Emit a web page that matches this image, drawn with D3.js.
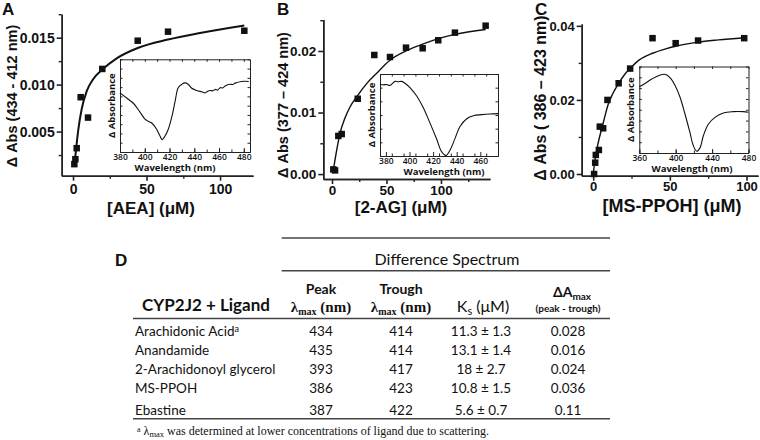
<!DOCTYPE html>
<html>
<head>
<meta charset="utf-8">
<script src="https://cdn.jsdelivr.net/npm/d3@7"></script>
<style>
  body { margin: 0; background: #fff; }
  svg { display: block; }
</style>
</head>
<body>
<svg id="fig" width="760" height="440"></svg>
<script>

// ---- Panel A : AEA titration
var aeaConc = [0.9, 1.6, 2.5, 5.2, 10.2, 19.9, 44, 64.6, 116.5];
var aeaAbs = [0.00153, 0.00206, 0.00323, 0.00866, 0.00649, 0.01167, 0.01468, 0.01564, 0.01574];
var aeaFitConc = [1.0, 2.0, 3.6, 5.9, 9.3, 13.8, 19.9, 29.7, 44, 64.6, 86.4, 116.5];
var aeaFitAbs = [0.0015, 0.0030, 0.0052, 0.0074, 0.0093, 0.0106, 0.0116, 0.0128, 0.0139, 0.0148, 0.0155, 0.0163];
var aeaWavelength = [380, 385.4, 390.8, 396, 400, 403, 405.6, 409.6, 412.3, 414, 416, 419, 421.8, 424.5, 427, 430, 432.5, 435, 438, 442, 446, 448.7, 450.5, 452.8, 455, 456.8, 459, 460.9, 463, 464.9, 469, 471, 473, 478, 484];
var aeaSpectrum = [0.638, 0.582, 0.526, 0.433, 0.358, 0.33, 0.313, 0.246, 0.172, 0.134, 0.164, 0.246, 0.377, 0.545, 0.694, 0.731, 0.746, 0.731, 0.687, 0.664, 0.649, 0.638, 0.652, 0.664, 0.66, 0.675, 0.67, 0.694, 0.69, 0.713, 0.731, 0.728, 0.743, 0.761, 0.761];

// ---- Panel B : 2-AG titration
var agConc = [1.2, 2.8, 5.8, 8.9, 23.6, 38.8, 53.2, 67.9, 83.2, 97.5, 112.8, 141];
var agAbs = [0.00076, 0.0006, 0.0062, 0.0065, 0.01224, 0.01935, 0.01902, 0.02054, 0.02044, 0.02174, 0.02298, 0.02411];
var agFitConc = [1.2, 4.3, 7.3, 11.9, 16.5, 23.6, 31.8, 41, 53.2, 67.9, 83.2, 97.5, 112.8, 141];
var agFitAbs = [0.00065, 0.0039, 0.0066, 0.0091, 0.0109, 0.0128, 0.0147, 0.0164, 0.0185, 0.0200, 0.0211, 0.0220, 0.0227, 0.0235];
var agWavelength = [375, 377.8, 380.5, 383.5, 387.7, 390.5, 393.4, 396.2, 400.4, 406.1, 411.7, 417.4, 423, 427.3, 430.9, 434.3, 438.6, 442.8, 448.5, 454.1, 461.2, 468.2, 475];
var agSpectrum = [0.876, 0.868, 0.872, 0.86, 0.91, 0.905, 0.91, 0.888, 0.835, 0.731, 0.587, 0.401, 0.207, 0.05, 0.008, 0.07, 0.215, 0.36, 0.455, 0.492, 0.504, 0.512, 0.517];

// ---- Panel C : MS-PPOH titration
var msConc = [0.6, 1.3, 1.7, 3.7, 4.3, 6.5, 9.3, 16.6, 24.1, 38.7, 53.8, 68.4, 98.5];
var msAbs = [0.0, 0.00305, 0.00514, 0.00649, 0.01279, 0.01234, 0.0200, 0.0245, 0.02846, 0.03667, 0.03532, 0.03603, 0.03667];
var msFitConc = [0, 1.5, 3.2, 6.5, 9.7, 12.9, 16.6, 20.4, 24.1, 30.1, 38.7, 47.3, 53.8, 68.4, 81.7, 98.5];
var msFitAbs = [0, 0.0047, 0.0083, 0.0137, 0.0187, 0.0218, 0.0245, 0.0268, 0.0285, 0.0308, 0.0326, 0.0338, 0.0345, 0.0356, 0.0362, 0.0368];
var msWavelength = [360, 366.3, 373.6, 380.9, 388.2, 393.7, 399.2, 404.7, 410.2, 415.7, 419.3, 423.1, 426.7, 430.3, 435.8, 443.2, 452.3, 463.3, 474.3, 479.8];
var msSpectrum = [0.765, 0.804, 0.855, 0.894, 0.91, 0.871, 0.784, 0.647, 0.451, 0.235, 0.086, 0.02, 0.059, 0.196, 0.333, 0.412, 0.463, 0.478, 0.478, 0.471];

// ---- tick labels
var concTicks = [0, 50, 100];
var aYTicks = [0.005, 0.010, 0.015];
var bYTicks = [0.00, 0.01, 0.02];
var cYTicks = [0.00, 0.02, 0.04];
var aWlTicks = [380, 400, 420, 440, 460, 480];
var bWlTicks = [380, 400, 420, 440, 460];
var cWlTicks = [360, 400, 440, 480];

// ---- Panel D : table
var ligands = ["Arachidonic Acid", "Anandamide", "2-Arachidonoyl glycerol", "MS-PPOH", "Ebastine"];
var peakNm = [434, 435, 393, 386, 387];
var troughNm = [414, 414, 417, 423, 422];
var ksMean = [11.3, 13.1, 18, 10.8, 5.6];
var ksErr = [1.3, 1.4, 2.7, 1.5, 0.7];
var deltaAmax = ["0.028", "0.016", "0.024", "0.036", "0.11"];

var svg = d3.select("#fig");
svg.append("rect").attr("width", 760).attr("height", 440).attr("fill", "#fff");

var ARIAL = "'Liberation Sans', Arial, sans-serif";
var INSET = "600 8.5px 'Open Sans', sans-serif";

/**
 * Strips d3 defaults and applies the figure's look.
 */
var styleAxis = function(sel, font, width) {
  sel.attr("font-family", null).attr("font-size", null);
  sel.selectAll("text").attr("fill", "#111").style("font", font);
  sel.select(".domain").attr("stroke", "#222").attr("stroke-width", width);
  sel.selectAll(".tick line").attr("stroke", "#222").attr("stroke-width", width);
};

var minorTicks = function(lo, hi, step) {
  return d3.range(lo, hi + step / 2, step);
};

/**
 * Draws the small difference spectrum inside a panel.
 */
var drawInset = function(g, p) {
  var b = p.box;
  var ix = d3.scaleLinear().domain(p.wlDomain).range([b[0], b[2]]);
  var iy = d3.scaleLinear().domain([0, 1]).range([b[3], b[1]]);

  g.append("rect").attr("x", b[0]).attr("y", b[1])
    .attr("width", b[2] - b[0]).attr("height", b[3] - b[1]).attr("fill", "#fff");

  var xMinor = minorTicks(p.wlDomain[0], p.wlDomain[1], p.wlMinorStep);
  var yMinor = minorTicks(0, 1, p.yMinorStep);

  // inward ticks on all four sides
  g.append("g").attr("transform", "translate(0," + b[3] + ")")
    .call(d3.axisBottom(ix).tickValues(xMinor).tickSize(-2.5).tickSizeOuter(0).tickFormat(""))
    .call(styleAxis, INSET, 1);
  g.append("g").attr("transform", "translate(0," + b[1] + ")")
    .call(d3.axisTop(ix).tickValues(xMinor).tickSize(-2.5).tickSizeOuter(0).tickFormat(""))
    .call(styleAxis, INSET, 1);
  g.append("g").attr("transform", "translate(" + b[0] + ",0)")
    .call(d3.axisLeft(iy).tickValues(yMinor).tickSize(-2.5).tickSizeOuter(0).tickFormat(""))
    .call(styleAxis, INSET, 1);
  g.append("g").attr("transform", "translate(" + b[2] + ",0)")
    .call(d3.axisRight(iy).tickValues(yMinor).tickSize(-2.5).tickSizeOuter(0).tickFormat(""))
    .call(styleAxis, INSET, 1);
  g.append("g").attr("transform", "translate(0," + b[3] + ")")
    .call(d3.axisBottom(ix).tickValues(p.wlTicks).tickSize(-4).tickSizeOuter(0).tickPadding(2).tickFormat(d3.format("d")))
    .call(styleAxis, INSET, 1);

  var line = d3.line()
    .x(function(d) { return ix(d[0]); })
    .y(function(d) { return iy(d[1]); })
    .curve(d3.curveCatmullRom);
  g.append("path")
    .datum(d3.zip(p.wl, p.spec))
    .attr("d", line)
    .attr("fill", "none").attr("stroke", "#111").attr("stroke-width", 1.1);

  g.append("text")
    .attr("transform", "translate(" + (b[0] - 5) + "," + ((b[1] + b[3]) / 2) + ") rotate(-90)")
    .attr("text-anchor", "middle")
    .style("font", "bold 9.5px 'Open Sans', sans-serif").attr("fill", "#111")
    .text("Δ Absorbance");
  g.append("text")
    .attr("x", p.wlTitleX).attr("y", b[3] + 19)
    .attr("text-anchor", "middle")
    .style("font", "bold 9.5px 'Open Sans', sans-serif").attr("fill", "#111")
    .text("Wavelength (nm)");
};

/**
 * Draws one titration panel with its fit and inset.
 */
var drawPanel = function(p) {
  var g = svg.append("g");
  var x = d3.scaleLinear().domain(p.xDomain).range(p.xRange);
  var y = d3.scaleLinear().domain(p.yDomain).range(p.yRange);
  var tickFont = "bold " + p.tickSize + "px " + ARIAL;

  g.append("g").attr("transform", "translate(0," + p.yRange[0] + ")")
    .call(d3.axisBottom(x).tickValues([25, 75, 125].filter(function(v) { return v < p.xDomain[1]; }))
      .tickSize(3).tickSizeOuter(0).tickFormat(""))
    .call(styleAxis, tickFont, 1.4);
  g.append("g").attr("transform", "translate(" + p.xRange[0] + ",0)")
    .call(d3.axisLeft(y).tickValues(p.yMinor).tickSize(3).tickSizeOuter(0).tickFormat(""))
    .call(styleAxis, tickFont, 1.4);

  g.append("g").attr("transform", "translate(0," + p.yRange[0] + ")")
    .call(d3.axisBottom(x).tickValues(concTicks).tickSize(5).tickSizeOuter(0).tickPadding(p.xPad))
    .call(styleAxis, tickFont, 1.6);
  g.append("g").attr("transform", "translate(" + p.xRange[0] + ",0)")
    .call(d3.axisLeft(y).tickValues(p.yTicks).tickSize(5).tickSizeOuter(0).tickPadding(2)
      .tickFormat(d3.format(p.yFormat)))
    .call(styleAxis, tickFont, 1.6);

  var fit = d3.line()
    .x(function(d) { return x(d[0]); })
    .y(function(d) { return y(d[1]); })
    .curve(d3.curveMonotoneX);
  g.append("path")
    .datum(d3.zip(p.fitConc, p.fitAbs))
    .attr("d", fit)
    .attr("fill", "none").attr("stroke", "#111").attr("stroke-width", p.fitWidth);

  var s = 6.5;
  g.selectAll(".pt")
    .data(d3.zip(p.conc, p.abs))
    .enter().append("rect")
      .attr("class", "pt")
      .attr("x", function(d) { return x(d[0]) - s / 2; })
      .attr("y", function(d) { return y(d[1]) - s / 2; })
      .attr("width", s).attr("height", s)
      .attr("fill", "#111");

  drawInset(g, p);

  g.append("text")
    .attr("transform", "translate(" + p.yTitleX + "," + p.yTitleY + ") rotate(-90)")
    .attr("text-anchor", "middle")
    .style("font", "bold " + p.yTitleSize + "px " + ARIAL).attr("fill", "#111")
    .text(p.yTitle);
  g.append("text")
    .attr("x", p.xTitleX).attr("y", p.xTitleY)
    .attr("text-anchor", "middle")
    .style("font", "bold " + p.xTitleSize + "px " + ARIAL).attr("fill", "#111")
    .text(p.xTitle);
  g.append("text")
    .attr("x", p.letterX).attr("y", 15)
    .style("font", "bold 17px " + ARIAL).attr("fill", "#111")
    .text(p.letter);
};

drawPanel({
  letter: "A", letterX: 2,
  conc: aeaConc, abs: aeaAbs, fitConc: aeaFitConc, fitAbs: aeaFitAbs, fitWidth: 2,
  xDomain: [-7.7, 122.4], xRange: [61.7, 253], xPad: 3, tickSize: 14,
  yDomain: [0.0003, 0.0175], yRange: [175.7, 14.2],
  yTicks: aYTicks, yMinor: [0.0025, 0.0075, 0.0125, 0.0175], yFormat: ".3f",
  yTitle: "Δ Abs (434 - 412 nm)", yTitleX: 17, yTitleY: 96, yTitleSize: 14.5,
  xTitle: "[AEA] (μM)", xTitleX: 151, xTitleY: 214, xTitleSize: 17,
  wl: aeaWavelength, spec: aeaSpectrum, wlDomain: [380, 485], wlTicks: aWlTicks,
  wlMinorStep: 10, yMinorStep: 0.1, box: [120, 59.3, 250, 152], wlTitleX: 175
});

drawPanel({
  letter: "B", letterX: 277,
  conc: agConc, abs: agAbs, fitConc: agFitConc, fitAbs: agFitAbs, fitWidth: 1.4,
  xDomain: [-8, 145], xRange: [323.3, 490], xPad: 1, tickSize: 13.5,
  yDomain: [-0.0008, 0.0251], yRange: [179, 19.6],
  yTicks: bYTicks, yMinor: [0.005, 0.015, 0.025], yFormat: ".2f",
  yTitle: "Δ Abs (377 – 424 nm)", yTitleX: 288, yTitleY: 105, yTitleSize: 14.5,
  xTitle: "[2-AG] (μM)", xTitleX: 401, xTitleY: 213, xTitleSize: 17,
  wl: agWavelength, spec: agSpectrum, wlDomain: [375, 475], wlTicks: bWlTicks,
  wlMinorStep: 10, yMinorStep: 1 / 6, box: [380, 74, 498, 156], wlTitleX: 444
});

drawPanel({
  letter: "C", letterX: 535,
  conc: msConc, abs: msAbs, fitConc: msFitConc, fitAbs: msFitAbs, fitWidth: 1.4,
  xDomain: [-7.5, 107.5], xRange: [581.7, 758], xPad: 1, tickSize: 13,
  yDomain: [-0.00046, 0.0405], yRange: [175.7, 24],
  yTicks: cYTicks, yMinor: [0.01, 0.03], yFormat: ".2f",
  yTitle: "Δ Abs ( 386 – 423 nm)", yTitleX: 546, yTitleY: 98, yTitleSize: 16,
  xTitle: "[MS-PPOH]  (μM)", xTitleX: 672, xTitleY: 212, xTitleSize: 18,
  wl: msWavelength, spec: msSpectrum, wlDomain: [360, 480], wlTicks: cWlTicks,
  wlMinorStep: 20, yMinorStep: 1 / 8, box: [639.3, 66.5, 748.5, 153], wlTitleX: 692
});

// ---- Panel D : table
var SANS = "'Lato', 'Open Sans', sans-serif";
var SERIF = "'Liberation Serif', 'Times New Roman', serif";
var t = svg.append("g").attr("fill", "#111");
var colX = { name: 135, peak: 321, trough: 401, ks: 481, dA: 568 };
var rowY = [336, 354.8, 373.8, 393.3, 415];

var rule = function(x1, x2, yy) {
  t.append("line").attr("x1", x1).attr("x2", x2).attr("y1", yy).attr("y2", yy)
    .attr("stroke", "#444").attr("stroke-width", 1.5);
};
rule(281.7, 610, 238);
rule(281.7, 610, 270.7);
rule(133, 610, 318.5);
rule(133, 610, 418.8);

t.append("text").attr("x", 115).attr("y", 266)
  .style("font", "bold 17px " + ARIAL).text("D");
t.append("text").attr("x", 447).attr("y", 265).attr("text-anchor", "middle")
  .style("font", "16px " + SANS).text("Difference Spectrum");

t.append("text").attr("x", colX.peak).attr("y", 294).attr("text-anchor", "middle")
  .style("font", "bold 14px " + SANS).text("Peak");
t.append("text").attr("x", colX.trough).attr("y", 294).attr("text-anchor", "middle")
  .style("font", "bold 14px " + SANS).text("Trough");
t.append("text").attr("x", 206).attr("y", 311).attr("text-anchor", "middle")
  .style("font", "bold 17px " + SANS).text("CYP2J2 + Ligand");

var lambdaHead = function(cx) {
  var tx = t.append("text").attr("x", cx).attr("y", 312).attr("text-anchor", "middle")
    .style("font", "bold 15px " + SERIF);
  tx.append("tspan").text("λ");
  tx.append("tspan").attr("dy", 3).style("font-size", "10px").text("max");
  tx.append("tspan").attr("dy", -3).text(" (nm)");
};
lambdaHead(colX.peak);
lambdaHead(colX.trough);

var ks = t.append("text").attr("x", colX.ks + 2).attr("y", 312).attr("text-anchor", "middle")
  .style("font", "16px " + SANS);
ks.append("tspan").text("K");
ks.append("tspan").attr("dy", 3).style("font-size", "11px").text("s");
ks.append("tspan").attr("dy", -3).text(" (μM)");

var da = t.append("text").attr("x", colX.dA + 4).attr("y", 297).attr("text-anchor", "middle")
  .style("font", "bold 14px " + SANS);
da.append("tspan").text("ΔA");
da.append("tspan").attr("dy", 3).style("font-size", "10px").text("max");
t.append("text").attr("x", colX.dA).attr("y", 312).attr("text-anchor", "middle")
  .style("font", "bold 10px " + SANS).text("(peak - trough)");

var BODY = "13.5px " + SANS;
ligands.forEach(function(name, i) {
  var nm = t.append("text").attr("x", colX.name).attr("y", rowY[i]).style("font", BODY);
  nm.append("tspan").text(name);
  if (i === 0) {
    nm.append("tspan").attr("dy", -4).style("font-size", "9px").text("a");
  }
  t.append("text").attr("x", colX.peak).attr("y", rowY[i]).attr("text-anchor", "middle")
    .style("font", BODY).text(peakNm[i]);
  t.append("text").attr("x", colX.trough).attr("y", rowY[i]).attr("text-anchor", "middle")
    .style("font", BODY).text(troughNm[i]);
  t.append("text").attr("x", colX.ks).attr("y", rowY[i]).attr("text-anchor", "middle")
    .style("font", BODY).text(ksMean[i] + " ± " + ksErr[i]);
  t.append("text").attr("x", colX.dA).attr("y", rowY[i]).attr("text-anchor", "middle")
    .style("font", BODY).text(deltaAmax[i]);
});

var fn = t.append("text").attr("x", 137).attr("y", 435).style("font", "12px " + SERIF);
fn.append("tspan").attr("dy", -3).style("font-size", "8px").text("a");
fn.append("tspan").attr("dy", 3).text(" λ");
fn.append("tspan").attr("dy", 2).style("font-size", "8.5px").text("max");
fn.append("tspan").attr("dy", -2).text(" was determined  at lower concentrations  of ligand  due to scattering.");

</script>
</body>
</html>
